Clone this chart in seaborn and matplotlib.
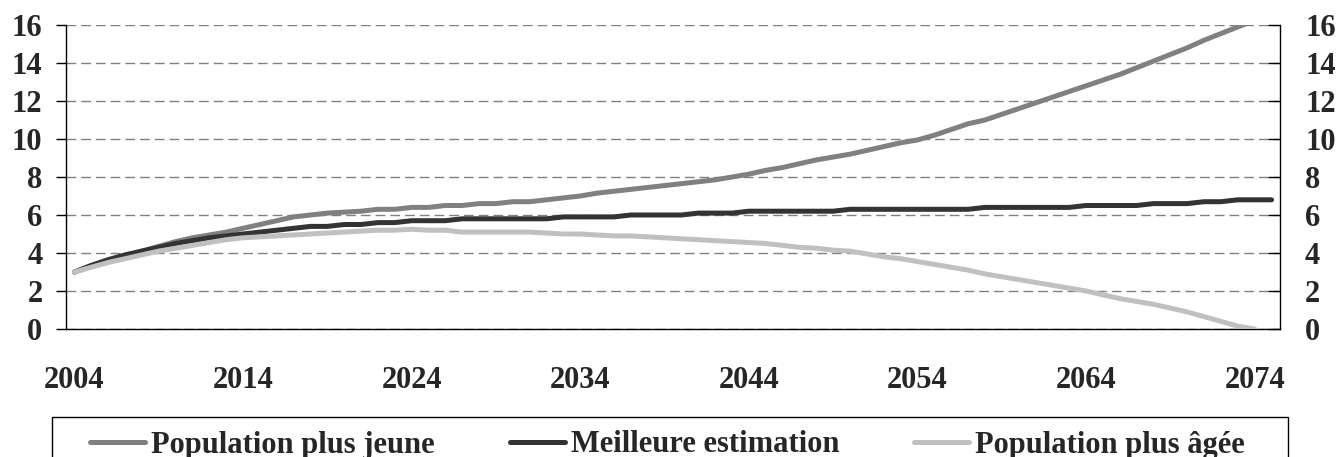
import numpy as np
import pandas as pd
import matplotlib
matplotlib.use("Agg")
import matplotlib.pyplot as plt
from matplotlib.patches import Rectangle
import seaborn as sns

# annual values, 2004 onward
years = list(range(2004, 2076))
young = [3.0, 3.3, 3.6, 3.85, 4.1, 4.35, 4.6, 4.8, 4.95, 5.1,
         5.3, 5.5, 5.7, 5.9, 6.0, 6.1, 6.15, 6.2, 6.3, 6.3,
         6.4, 6.4, 6.5, 6.5, 6.6, 6.6, 6.7, 6.7, 6.8, 6.9,
         7.0, 7.15, 7.25, 7.35, 7.45, 7.55, 7.65, 7.75, 7.85, 8.0,
         8.15, 8.35, 8.5, 8.7, 8.9, 9.05, 9.2, 9.4, 9.6, 9.8,
         9.95, 10.2, 10.5, 10.8, 11.0, 11.3, 11.6, 11.9, 12.2, 12.5,
         12.8, 13.1, 13.4, 13.75, 14.1, 14.45, 14.8, 15.2, 15.55, 15.9,
         16.25]
best = [3.0, 3.35, 3.65, 3.9, 4.1, 4.3, 4.5, 4.65, 4.8, 4.9,
        5.0, 5.1, 5.2, 5.3, 5.4, 5.4, 5.5, 5.5, 5.6, 5.6,
        5.7, 5.7, 5.7, 5.8, 5.8, 5.8, 5.8, 5.8, 5.8, 5.9,
        5.9, 5.9, 5.9, 6.0, 6.0, 6.0, 6.0, 6.1, 6.1, 6.1,
        6.2, 6.2, 6.2, 6.2, 6.2, 6.2, 6.3, 6.3, 6.3, 6.3,
        6.3, 6.3, 6.3, 6.3, 6.4, 6.4, 6.4, 6.4, 6.4, 6.4,
        6.5, 6.5, 6.5, 6.5, 6.6, 6.6, 6.6, 6.7, 6.7, 6.8,
        6.8, 6.8]
old = [3.0, 3.25, 3.5, 3.7, 3.9, 4.1, 4.25, 4.4, 4.55, 4.7,
       4.8, 4.85, 4.9, 4.95, 5.0, 5.05, 5.1, 5.15, 5.2, 5.2,
       5.25, 5.2, 5.2, 5.1, 5.1, 5.1, 5.1, 5.1, 5.05, 5.0,
       5.0, 4.95, 4.9, 4.9, 4.85, 4.8, 4.75, 4.7, 4.65, 4.6,
       4.55, 4.5, 4.4, 4.3, 4.25, 4.15, 4.1, 3.95, 3.8, 3.7,
       3.55, 3.4, 3.25, 3.1, 2.9, 2.75, 2.6, 2.45, 2.3, 2.15,
       2.0, 1.8, 1.6, 1.45, 1.3, 1.1, 0.9, 0.65, 0.4, 0.15,
       0.0]
labels = ["Population plus jeune", "Meilleure estimation", "Population plus âgée"]
colors = ["#808080", "#333333", "#c0c0c0"]

sns.set_style("white")
plt.rcParams['font.family'] = ['Liberation Serif', 'DejaVu Serif']
plt.rcParams['font.weight'] = 'bold'

fig = plt.figure(figsize=(13.38, 4.57), dpi=100)
ax = fig.add_axes([66 / 1338, 128 / 457, 1214 / 1338, 304 / 457])

for vals, lab, col in zip([young, best, old], labels, colors):
    df = pd.DataFrame({'year': years[:len(vals)], 'value': vals})
    sns.lineplot(data=df, x='year', y='value', ax=ax, color=col, label=lab,
                 linewidth=3.6, legend=False, solid_capstyle='round',
                 solid_joinstyle='round', zorder=3)

ax.set_xlim(2003.5, 2075.5)
ax.set_ylim(0, 16)
ax.set_xlabel('')
ax.set_ylabel('')

# ticks between categories, labels centred on every 10th year
ax.set_xticks(np.arange(2003.5, 2076, 5))
ax.set_xticklabels([])
ax.set_xticks(years[::10], minor=True)
ax.set_xticklabels([str(y) for y in years[::10]], minor=True)
ax.tick_params(axis='x', which='major', direction='out', length=7.5, width=1, color='black')
ax.tick_params(axis='x', which='minor', length=0, pad=27, labelsize=22)

ax.set_yticks(range(0, 17, 2))
ax.tick_params(axis='y', direction='out', length=7, width=1, color='black', pad=10, labelsize=22)
ax.yaxis.grid(True, color='#808080', linestyle=(0, (7, 3.6)), linewidth=1)
ax.set_axisbelow(True)

for s in ['top', 'right']:
    ax.spines[s].set_visible(False)
for s in ['left', 'bottom']:
    ax.spines[s].set_color('black')
    ax.spines[s].set_linewidth(1)

ax2 = ax.twinx()
ax2.set_ylim(0, 16)
ax2.set_yticks(range(0, 17, 2))
ax2.tick_params(axis='y', direction='in', length=9, width=1, color='black', pad=18, labelsize=22)
for s in ['top', 'left', 'bottom']:
    ax2.spines[s].set_visible(False)
ax2.spines['right'].set_color('black')
ax2.spines['right'].set_linewidth(1)

for t in ax.get_xticklabels(minor=True) + ax.get_yticklabels() + ax2.get_yticklabels():
    t.set_fontweight('bold')

# legend box runs off the bottom edge of the image
fig.add_artist(Rectangle((52 / 1338, -0.05), 1236 / 1338, 40 / 457 + 0.05,
                         transform=fig.transFigure, fill=False,
                         edgecolor='black', linewidth=1))
handles, labs = ax.get_legend_handles_labels()
leg = fig.legend(handles, labs, loc='center left',
                 bbox_to_anchor=(90 / 1338, 12 / 457),
                 ncol=3, frameon=False, borderpad=0, borderaxespad=0,
                 handlelength=1.8, handletextpad=0.2, columnspacing=2.45,
                 prop={'size': 22, 'weight': 'bold'})

fig.savefig('out.png', dpi=100)
